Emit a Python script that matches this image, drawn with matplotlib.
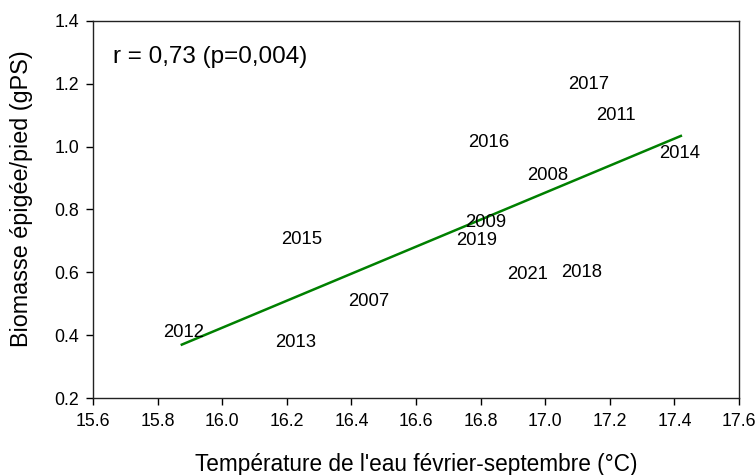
import matplotlib
matplotlib.use("Agg")
import matplotlib.pyplot as plt
import numpy as np

plt.rcParams['font.family'] = ['Liberation Sans', 'DejaVu Sans']

# values
years = ["2012", "2013", "2015", "2007", "2009", "2019", "2016", "2008",
         "2021", "2018", "2017", "2011", "2014"]
temp = [15.879, 16.228, 16.247, 16.454, 16.817, 16.789, 16.826, 17.009,
        16.944, 17.114, 17.133, 17.219, 17.417]
biomass = [0.41, 0.378, 0.706, 0.506, 0.757, 0.700, 1.012, 0.907,
           0.592, 0.601, 1.197, 1.098, 0.977]

# regression line as drawn (ends at min/max temperature)
fit_x = [15.875, 17.42]
fit_y = [0.37, 1.034]

fig = plt.figure(figsize=(7.56, 4.75), dpi=100)
ax = fig.add_axes([0.123, 0.162, 0.8545, 0.794])

ax.plot(fit_x, fit_y, color='#008000', lw=1.8, zorder=2)

for yr, xv, yv in zip(years, temp, biomass):
    ax.text(xv, yv, yr, ha='center', va='center', fontsize=13.3, zorder=3)

ax.text(0.031, 0.905, "r = 0,73 (p=0,004)", transform=ax.transAxes,
        ha='left', va='center', fontsize=17.5)

ax.set_xlim(15.6, 17.6)
ax.set_ylim(0.2, 1.4)
ax.set_xticks(np.arange(15.6, 17.61, 0.2))
ax.set_yticks(np.arange(0.2, 1.41, 0.2))
ax.xaxis.set_major_formatter(matplotlib.ticker.FormatStrFormatter('%.1f'))
ax.yaxis.set_major_formatter(matplotlib.ticker.FormatStrFormatter('%.1f'))
ax.tick_params(direction='out', length=5, width=1, labelsize=12.8,
               top=False, right=False)
ax.tick_params(axis='x', pad=6)
ax.tick_params(axis='y', pad=5)
for s in ax.spines.values():
    s.set_linewidth(1)
    s.set_color('#222222')

ax.set_xlabel("Température de l'eau février-septembre (°C)", fontsize=16.3,
              va='center')
ax.set_ylabel("Biomasse épigée/pied (gPS)", fontsize=16.8, va='center')
ax.xaxis.set_label_coords(0.5, -0.175)
ax.yaxis.set_label_coords(-0.111, 0.528)

fig.savefig("out.png", dpi=100)
